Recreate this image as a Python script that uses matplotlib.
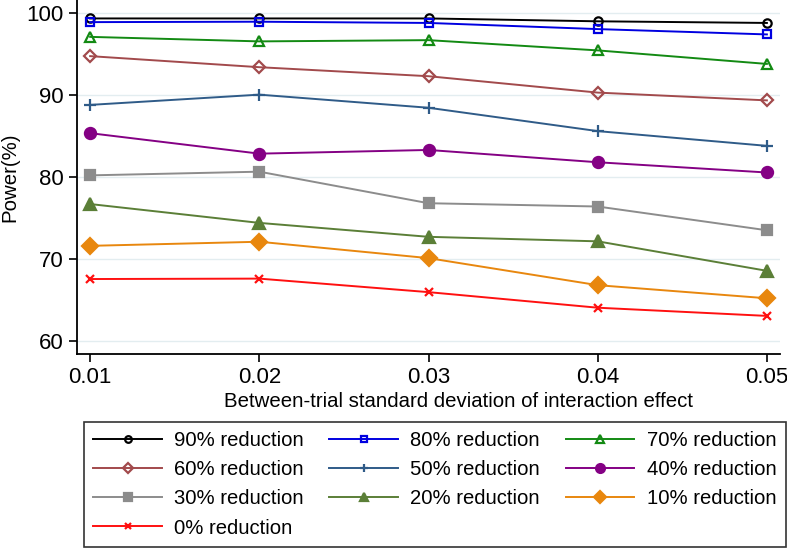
import matplotlib.pyplot as plt

plt.rcParams['font.family'] = ['Liberation Sans', 'DejaVu Sans']

sd = [0.01, 0.02, 0.03, 0.04, 0.05]
labels = ["90% reduction", "80% reduction", "70% reduction", "60% reduction",
          "50% reduction", "40% reduction", "30% reduction", "20% reduction",
          "10% reduction", "0% reduction"]
p90 = [99.35, 99.35, 99.35, 99.0, 98.8]
p80 = [98.9, 98.95, 98.8, 98.05, 97.4]
p70 = [97.1, 96.55, 96.7, 95.45, 93.8]
p60 = [94.75, 93.4, 92.3, 90.3, 89.35]
p50 = [88.8, 90.05, 88.45, 85.6, 83.8]
p40 = [85.35, 82.85, 83.3, 81.8, 80.55]
p30 = [80.2, 80.65, 76.8, 76.4, 73.5]
p20 = [76.7, 74.4, 72.7, 72.15, 68.55]
p10 = [71.6, 72.1, 70.1, 66.8, 65.2]
p0 = [67.55, 67.6, 65.95, 64.05, 63.05]
series = [p90, p80, p70, p60, p50, p40, p30, p20, p10, p0]

colors = ['#000000', '#0000e0', '#138a13', '#a24a4c', '#2f5b88',
          '#840084', '#8c8c8c', '#5b7f37', '#e8870e', '#ff1010']
markers = ['o', 's', '^', 'D', '+', 'o', 's', '^', 'D', 'x']
hollow = [True, True, True, True, False, False, False, False, False, False]
msizes = [6, 6, 7, 6, 8, 8, 7, 8, 8, 6]

fig = plt.figure(figsize=(7.87, 5.48), dpi=100)
ax = fig.add_axes([0.098, 0.354, 0.893, 0.646])

handles = []
for y, c, m, h, ms, lab in zip(series, colors, markers, hollow, msizes, labels):
    ln, = ax.plot(sd, y, color=c, lw=1.4, marker=m, ms=ms,
                  mfc='none' if h else c, mec=c, mew=1.6, label=lab)
    handles.append(ln)

ax.set_xlim(0.00923, 0.05077)
ax.set_ylim(58.4, 101.6)
ax.set_xticks(sd)
ax.set_xticklabels(["0.01", "0.02", "0.03", "0.04", "0.05"])
ax.set_yticks([60, 70, 80, 90, 100])
ax.yaxis.grid(True, color='#e3edf0', lw=1)
ax.set_axisbelow(True)
for s in ['top', 'right']:
    ax.spines[s].set_visible(False)
for s in ['left', 'bottom']:
    ax.spines[s].set_linewidth(1.3)
ax.tick_params(labelsize=16, length=6, width=1.2, direction='out')
ax.set_xlabel("Between-trial standard deviation of interaction effect",
              fontsize=14.7)
ax.xaxis.set_label_coords(0.543, -0.108)
ax.set_ylabel("Power(%)", fontsize=14.7, labelpad=5)

# stata fills the legend row by row, matplotlib column by column
order = [0, 3, 6, 9, 1, 4, 7, 2, 5, 8]
leg = fig.legend([handles[i] for i in order], [labels[i] for i in order],
                 ncol=3, loc='upper left', bbox_to_anchor=(0.1067, 0.230),
                 fontsize=14.6, frameon=True, fancybox=False,
                 edgecolor='black', handlelength=3.4, handletextpad=0.6,
                 columnspacing=1.25, labelspacing=0.5, borderpad=0.45,
                 markerscale=0.8, borderaxespad=0)
leg.get_frame().set_linewidth(1.2)

fig.savefig("out.png", dpi=100)
